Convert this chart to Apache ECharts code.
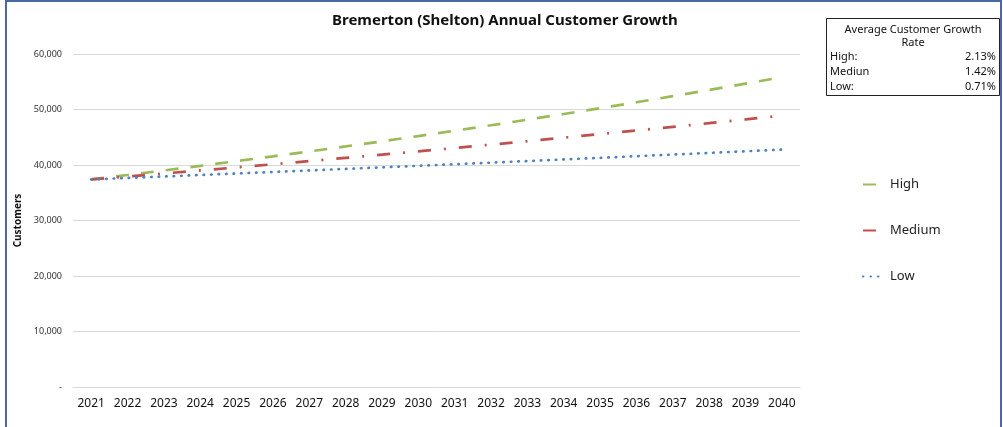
<!DOCTYPE html>
<html>
<head>
<meta charset="utf-8">
<title>Bremerton (Shelton) Annual Customer Growth</title>
<script src="https://cdn.jsdelivr.net/npm/echarts@6/dist/echarts.min.js"></script>
<style>
	html, body { margin: 0; padding: 0; background: #fff; }
	#main { width: 1003px; height: 427px; }
</style>
</head>
<body>
<div id="main"></div>
<script>
var years = ['2021', '2022', '2023', '2024', '2025', '2026', '2027', '2028', '2029', '2030',
	'2031', '2032', '2033', '2034', '2035', '2036', '2037', '2038', '2039', '2040'];

var high = [37400, 38197, 39011, 39842, 40691, 41558, 42443, 43347, 44270, 45213,
	46176, 47160, 48164, 49190, 50238, 51308, 52401, 53517, 54657, 55821];
var medium = [37400, 37931, 38470, 39016, 39570, 40132, 40702, 41280, 41866, 42461,
	43064, 43675, 44295, 44924, 45562, 46209, 46865, 47531, 48206, 48890];
var low = [37400, 37666, 37933, 38202, 38473, 38746, 39021, 39298, 39577, 39858,
	40141, 40426, 40713, 41002, 41293, 41586, 41881, 42178, 42478, 42780];

// rate table (top right)
var rateNames = ['High:', 'Mediun', 'Low:'];
var rateValues = ['2.13%', '1.42%', '0.71%'];

var font = 'Noto Sans';

function tableText() {
	var items = [];
	items.push({
		type: 'rect',
		shape: { x: 826.5, y: 18.5, width: 173, height: 77 },
		style: { fill: '#fff', stroke: '#222', lineWidth: 1 }
	});
	items.push({
		type: 'text',
		style: { x: 913, y: 30, text: 'Average Customer Growth', align: 'center', verticalAlign: 'middle',
			fill: '#111', font: '11px "' + font + '"' }
	});
	items.push({
		type: 'text',
		style: { x: 913, y: 43, text: 'Rate', align: 'center', verticalAlign: 'middle',
			fill: '#111', font: '11px "' + font + '"' }
	});
	for (var i = 0; i < rateNames.length; i++) {
		items.push({
			type: 'text',
			style: { x: 830, y: 57 + i * 15, text: rateNames[i], align: 'left', verticalAlign: 'middle',
				fill: '#111', font: '11px "' + font + '"' }
		});
		items.push({
			type: 'text',
			style: { x: 996, y: 57 + i * 15, text: rateValues[i], align: 'right', verticalAlign: 'middle',
				fill: '#111', font: '11px "' + font + '"' }
		});
	}
	return items;
}

var option = {
	backgroundColor: '#fff',
	animation: false,
	title: {
		text: 'Bremerton (Shelton) Annual Customer Growth',
		left: 327,
		top: 8,
		textStyle: {
			fontFamily: font,
			fontSize: 15,
			fontWeight: 'bold',
			color: '#111'
		}
	},
	legend: {
		orient: 'vertical',
		left: 857,
		top: 173,
		itemWidth: 18,
		itemHeight: 14,
		itemGap: 33,
		itemStyle: { opacity: 0 },
		textStyle: {
			fontFamily: font,
			fontSize: 13,
			color: '#222',
			padding: [0, 0, 0, 4]
		},
		data: ['High', 'Medium', 'Low']
	},
	grid: {
		left: 73,
		right: 203,
		top: 54,
		bottom: 40,
		containLabel: false
	},
	xAxis: {
		type: 'category',
		data: years,
		boundaryGap: true,
		axisLine: { lineStyle: { color: '#d9d9d9' } },
		axisTick: { show: false },
		axisLabel: {
			margin: 11,
			fontFamily: font,
			fontSize: 12,
			color: '#111'
		}
	},
	yAxis: {
		type: 'value',
		min: 0,
		max: 60000,
		interval: 10000,
		name: 'Customers',
		nameLocation: 'middle',
		nameGap: 50,
		nameTextStyle: {
			fontFamily: font,
			fontSize: 10,
			fontWeight: 'bold',
			color: '#111'
		},
		axisLine: { show: false },
		axisTick: { show: false },
		splitLine: { lineStyle: { color: '#d9d9d9' } },
		axisLabel: {
			margin: 11,
			fontFamily: font,
			fontSize: 9,
			color: '#333',
			formatter: function(v) {
				if (v === 0) return '-';
				return v.toLocaleString('en-US');
			}
		}
	},
	series: [{
		name: 'High',
		type: 'line',
		symbol: 'none',
		data: high,
		itemStyle: { color: '#9BBB59' },
		lineStyle: { color: '#9BBB59', width: 2.7, type: [13, 12] }
	}, {
		name: 'Medium',
		type: 'line',
		symbol: 'none',
		data: medium,
		itemStyle: { color: '#C0504D' },
		lineStyle: { color: '#C0504D', width: 2.7, type: [13, 13, 2, 13] }
	}, {
		name: 'Low',
		type: 'line',
		symbol: 'none',
		data: low,
		itemStyle: { color: '#4F81BD' },
		lineStyle: { color: '#4F81BD', width: 2.7, type: [0.5, 7], cap: 'round' }
	}],
	graphic: [{
		// outer frame
		type: 'rect',
		silent: true,
		shape: { x: 6, y: 1, width: 995, height: 450 },
		style: { fill: 'none', stroke: '#4A68A4', lineWidth: 2 }
	}].concat(tableText())
};

var chart = echarts.init(document.getElementById('main'));
chart.setOption(option);
</script>
</body>
</html>
